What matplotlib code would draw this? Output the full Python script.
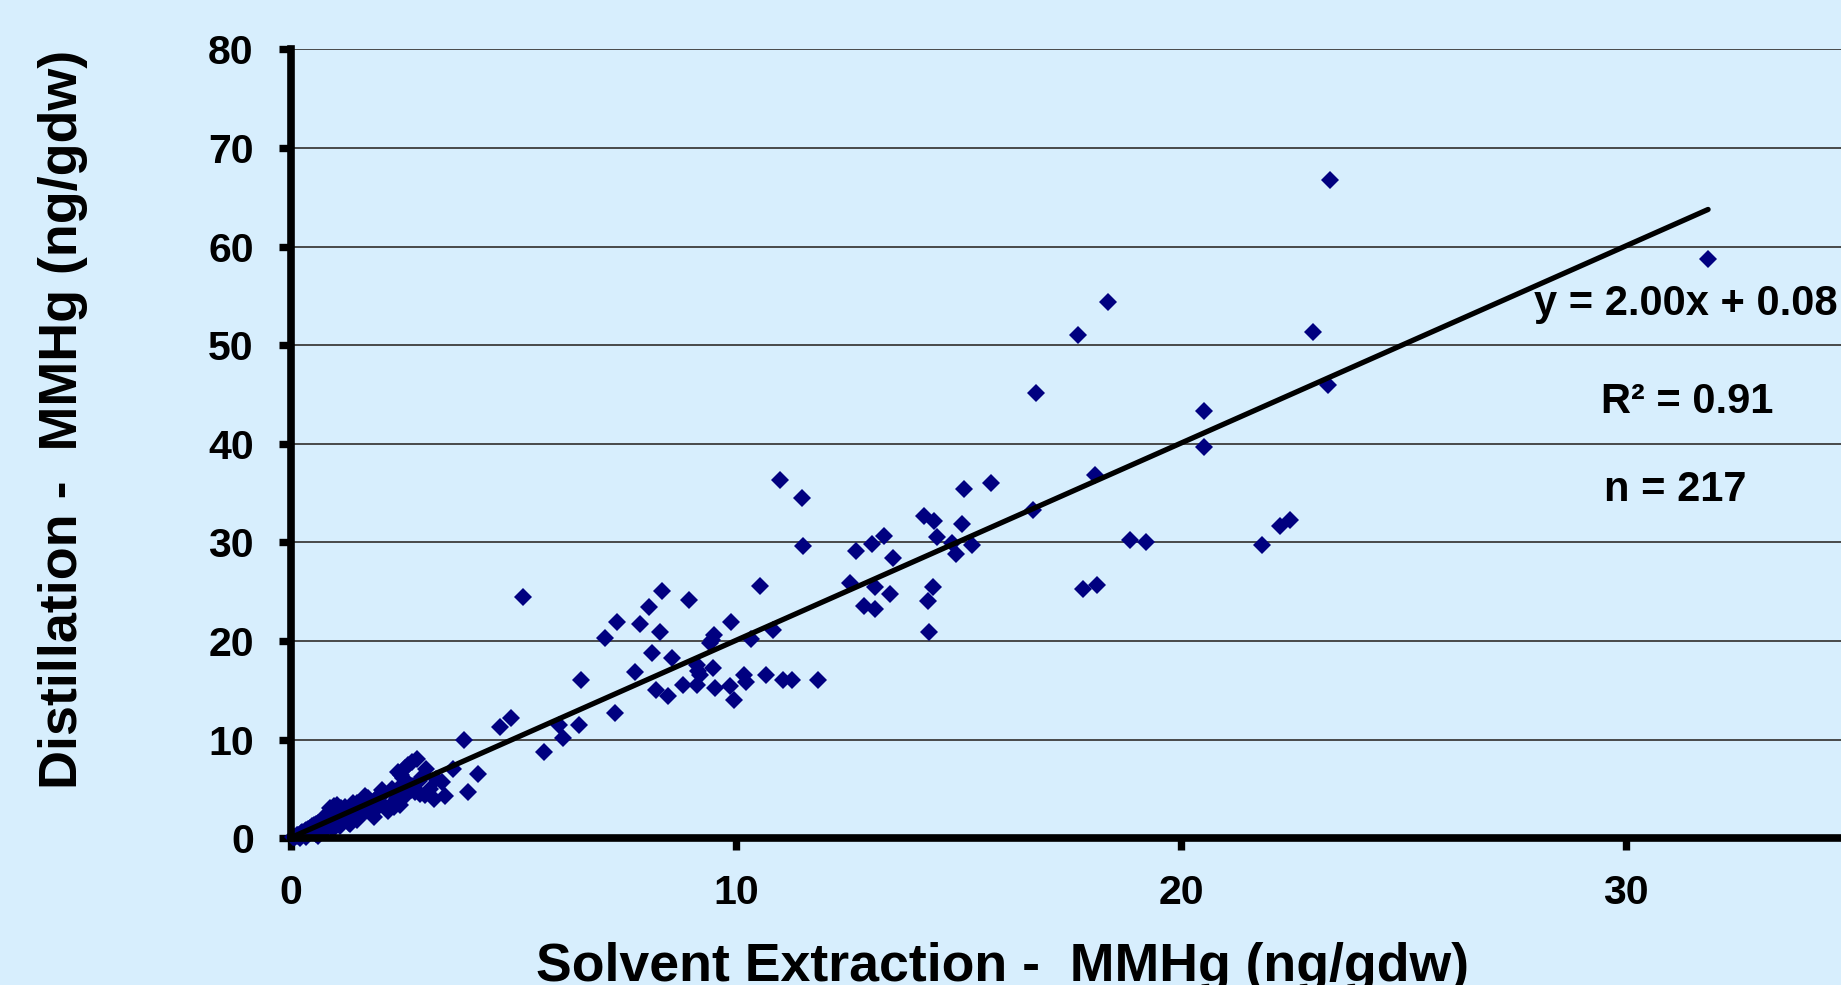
import matplotlib
matplotlib.use("Agg")
import matplotlib.pyplot as plt

plt.rcParams['font.family'] = ['Liberation Sans', 'DejaVu Sans']
plt.rcParams['font.weight'] = 'bold'

# ---------------- data ----------------
# upper / outer points
x_high = [23.34, 31.84, 18.36, 17.68, 22.96, 23.30, 16.73, 20.52, 20.52, 18.07,
          16.68, 18.86, 19.21, 21.82, 22.22, 22.44, 17.79, 18.10]
y_high = [66.7, 58.75, 54.4, 51.0, 51.35, 46.0, 45.2, 43.3, 39.7, 36.8,
          33.3, 30.25, 30.0, 29.7, 31.7, 32.3, 25.3, 25.7]

# points between x = 12 and 16
x_mid2 = [15.12, 15.73, 14.22, 14.45, 15.08, 13.32, 13.06, 12.69, 14.52, 14.84,
          14.94, 15.31, 13.52, 12.56, 13.12, 13.46, 12.87, 13.13, 14.43, 14.30, 14.33]
y_mid2 = [35.4, 36.0, 32.7, 32.2, 31.9, 30.7, 29.8, 29.1, 30.6, 29.9,
          28.8, 29.7, 28.4, 25.9, 25.5, 24.8, 23.6, 23.2, 25.5, 24.1, 20.9]

# points between x = 5 and 12
x_mid1 = [5.20, 10.99, 11.48, 11.51, 10.53, 8.34, 8.95, 8.05, 7.33, 7.84,
          9.89, 7.06, 8.28, 9.51, 9.41, 10.83, 10.33, 8.11, 8.56, 7.73,
          9.11, 9.47, 9.19, 9.11, 8.80, 8.20, 8.46, 9.53, 9.85, 9.96,
          10.18, 10.22, 10.66, 11.06, 11.26, 11.83, 6.51, 7.27, 6.47, 6.01,
          6.10, 9.15, 9.45]
y_mid1 = [24.5, 36.3, 34.5, 29.6, 25.6, 25.1, 24.2, 23.5, 21.9, 21.7,
          21.9, 20.3, 20.9, 20.6, 19.8, 21.1, 20.2, 18.8, 18.3, 16.9,
          17.6, 17.3, 16.6, 15.5, 15.5, 15.0, 14.4, 15.2, 15.4, 14.0,
          16.6, 15.8, 16.6, 16.1, 16.1, 16.1, 16.1, 12.7, 11.5, 11.5,
          10.2, 17.0, 20.1]

# points between x = 0.6 and 6
x_low = [4.95, 4.69, 3.88, 5.69, 4.19, 3.98, 3.64, 3.02, 2.82, 2.63,
         2.41, 2.52, 3.38, 3.46, 3.01, 2.78, 2.37, 2.44, 2.18, 2.03,
         1.87, 1.66, 1.47, 1.32, 0.97, 1.06, 0.83, 0.76, 2.69, 2.31,
         2.55, 2.72, 2.47, 1.02, 1.12, 0.88, 2.90, 3.20, 0.60]
y_low = [12.2, 11.3, 10.0, 8.8, 6.5, 4.7, 7.0, 7.0, 8.0, 7.4,
         6.75, 6.1, 5.7, 4.3, 4.4, 4.7, 4.05, 3.4, 2.8, 4.9,
         2.2, 4.3, 3.55, 1.5, 3.2, 2.35, 2.5, 1.5, 4.9, 3.2,
         7.1, 7.7, 6.4, 3.35, 3.10, 3.05, 4.5, 4.0, 0.25]

# dense cluster near the origin
x_origin = [0.04, 0.07, 0.09, 0.12, 0.13, 0.16, 0.18, 0.21, 0.23, 0.25,
            0.27, 0.30, 0.31, 0.34, 0.36, 0.38, 0.41, 0.43, 0.44, 0.47,
            0.49, 0.52, 0.53, 0.56, 0.58, 0.60, 0.61, 0.64, 0.66, 0.68,
            0.70, 0.71, 0.74, 0.76, 0.78, 0.79, 0.82, 0.84, 0.86, 0.88,
            0.90, 0.91, 0.94, 0.96, 0.98, 1.00, 1.01, 1.04, 1.06, 1.08,
            1.11, 1.13, 1.15, 1.17, 1.19, 1.22, 1.24, 1.27, 1.29, 1.33,
            1.36, 1.38, 1.42, 1.44, 1.48, 1.52, 1.55, 1.58, 1.61, 1.64,
            1.69, 1.72, 1.76, 1.79, 1.83, 1.88, 1.92, 1.97, 2.02, 2.08,
            2.13, 2.26, 2.33, 2.48, 2.56, 2.71, 2.88, 2.95, 3.12, 3.25,
            0.20, 0.33, 0.55, 0.72, 0.93, 1.10]
y_origin = [0.10, 0.18, 0.12, 0.30, 0.20, 0.35, 0.28, 0.52, 0.38, 0.60,
            0.42, 0.70, 0.45, 0.80, 0.55, 0.95, 0.62, 1.05, 0.70, 1.20,
            0.78, 1.30, 0.85, 1.45, 0.92, 1.60, 1.00, 1.70, 1.05, 1.85,
            1.15, 2.00, 1.20, 2.10, 1.30, 2.30, 1.35, 2.55, 1.45, 2.75,
            1.50, 3.00, 1.60, 3.30, 1.70, 2.90, 1.75, 3.10, 1.85, 2.60,
            1.90, 2.95, 2.00, 2.70, 2.10, 3.20, 2.20, 2.90, 1.60, 3.00,
            2.40, 3.60, 2.50, 3.20, 1.90, 3.40, 2.30, 3.80, 2.60, 3.50,
            2.80, 4.10, 3.10, 3.70, 2.70, 3.90, 3.20, 4.30, 3.50, 4.60,
            3.10, 5.00, 3.80, 5.40, 4.30, 5.30, 5.80, 6.20, 5.00, 6.00,
            0.05, 0.15, 0.40, 0.60, 0.90, 1.20]

# trendline parameters (from the chart's equation)
slope = 2.00
intercept = 0.08
r_squared = 0.91
n_samples = 217

x_ticks = [0, 10, 20, 30]
y_ticks = [0, 10, 20, 30, 40, 50, 60, 70, 80]

x_label = "Solvent Extraction -  MMHg (ng/gdw)"
y_label = "Distillation -  MMHg (ng/gdw)"

# ---------------- drawing ----------------
xs = x_high + x_mid2 + x_mid1 + x_low + x_origin
ys = y_high + y_mid2 + y_mid1 + y_low + y_origin

bg = '#D7EEFD'
W, H = 1841, 985
fig = plt.figure(figsize=(W / 100, H / 100), dpi=100, facecolor=bg)

left = 291.2 / W
bottom = (H - 838.3) / H
top = (H - 49.3) / H
ax_w = (35 * 44.5) / W
ax = fig.add_axes([left, bottom, ax_w, top - bottom])
ax.set_facecolor(bg)
ax.set_xlim(0, 35)
ax.set_ylim(0, 80)

ax.set_axisbelow(True)
ax.yaxis.grid(True, color='#3c3c3c', lw=1.3, zorder=0)
ax.xaxis.grid(False)

ax.plot(xs, ys, linestyle='none', marker='D', ms=9.6, color='#000080',
        mew=0, zorder=2, clip_on=False)

x0, x1 = min(xs), max(xs)
ax.plot([x0, x1], [slope * x0 + intercept, slope * x1 + intercept],
        color='black', lw=3.8, zorder=3, solid_capstyle='round')

for s in ['top', 'right']:
    ax.spines[s].set_visible(False)
for s in ['left', 'bottom']:
    ax.spines[s].set_linewidth(5.5)
    ax.spines[s].set_color('black')
    ax.spines[s].set_zorder(4)

ax.set_xticks(x_ticks)
ax.set_yticks(y_ticks)
ax.tick_params(axis='both', direction='out', length=8.5, width=5.3, color='black',
               labelsize=29.5)
ax.tick_params(axis='x', pad=17)
ax.tick_params(axis='y', pad=18.5)
for lab in ax.get_xticklabels() + ax.get_yticklabels():
    lab.set_fontweight('bold')

ax.text(27.92, 53.07, f"y = {slope:.2f}x + {intercept:.2f}", fontsize=30,
        fontweight='bold', ha='left', va='baseline', zorder=5)
ax.text(29.43, 43.1, f"R\u00b2 = {r_squared:.2f}", fontsize=30,
        fontweight='bold', ha='left', va='baseline', zorder=5)
ax.text(29.49, 34.2, f"n = {n_samples}", fontsize=30,
        fontweight='bold', ha='left', va='baseline', zorder=5)

fig.text(1002 / W, (H - 981) / H, x_label, fontsize=38.6, fontweight='bold',
         ha='center', va='baseline')
fig.text(63 / W, 1 - 419.5 / H, y_label, fontsize=38.8, fontweight='bold',
         ha='center', va='center', rotation=90)

fig.savefig('out.png', dpi=100, facecolor=bg)
